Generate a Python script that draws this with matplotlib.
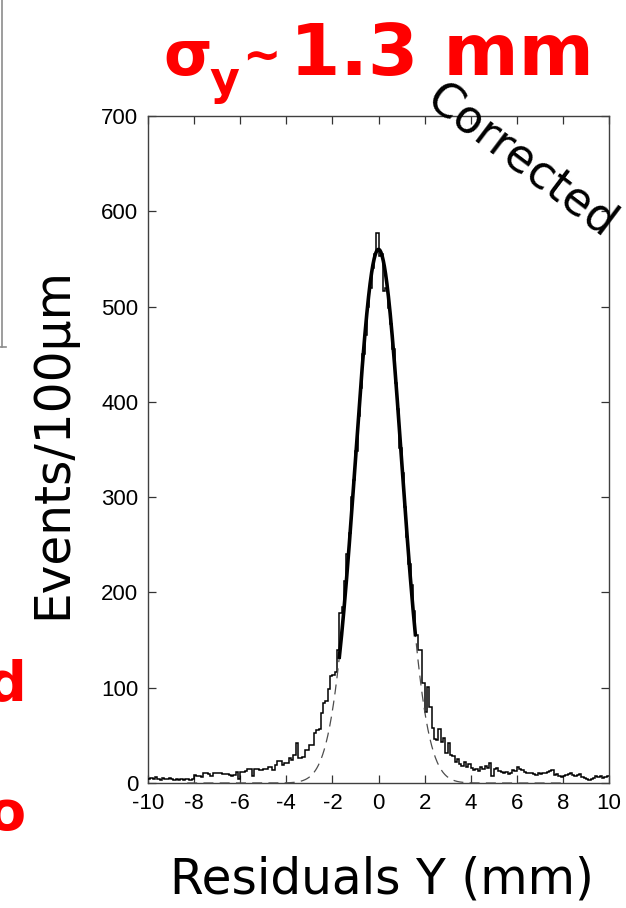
import numpy as np
import matplotlib
matplotlib.use('Agg')
import matplotlib.pyplot as plt
from matplotlib.lines import Line2D

plt.rcParams['axes.unicode_minus'] = False

# residual histogram, 100 um bins from -10 mm to +10 mm
bin_width = 0.1
x_min, x_max = -10, 10

# counts per bin, -10 mm .. -2 mm
counts_left = [
    4, 5, 4, 6, 4, 3, 5, 4, 4, 5,
    4, 3, 4, 3, 4, 3, 4, 4, 3, 4,
    8, 7, 7, 6, 10, 10, 9, 7, 10, 10,
    10, 10, 9, 9, 9, 8, 7, 8, 12, 4,
    12, 12, 13, 15, 15, 7, 15, 15, 14, 14,
    15, 15, 17, 17, 14, 19, 23, 23, 19, 21,
    21, 26, 24, 29, 42, 26, 26, 27, 35, 35,
    40, 40, 52, 56, 57, 73, 84, 86, 99, 112,
]
# counts per bin, -2 mm .. +2 mm
counts_core = [
    113, 117, 140, 178, 185, 212, 240, 262, 300, 318,
    348, 385, 415, 450, 470, 500, 520, 540, 555, 577,
    553, 555, 516, 520, 498, 482, 455, 420, 392, 352,
    325, 290, 258, 230, 208, 180, 155, 140, 140, 105,
]
# counts per bin, +2 mm .. +10 mm
counts_right = [
    74, 101, 80, 58, 46, 45, 57, 43, 47, 32,
    42, 29, 28, 22, 25, 20, 18, 22, 17, 20,
    16, 14, 15, 13, 17, 15, 18, 16, 21, 7,
    15, 16, 13, 12, 11, 12, 9, 10, 14, 13,
    17, 15, 14, 12, 11, 10, 11, 9, 8, 10,
    9, 10, 11, 12, 13, 14, 8, 9, 7, 6,
    7, 8, 9, 10, 8, 7, 8, 9, 6, 5,
    4, 3, 4, 5, 7, 6, 7, 5, 6, 7,
]

# gaussian fit to the core
fit_amp = 560
fit_mean = 0.0
fit_sigma = 1.0
fit_range = (-1.7, 1.6)      # fitted region, drawn solid
fit_extend = (-8.3, 8.0)     # extrapolation, drawn dashed

counts = np.array(counts_left + counts_core + counts_right)
edges = np.round(np.arange(x_min, x_max + bin_width / 2, bin_width), 3)


def gauss(x):
    return fit_amp * np.exp(-0.5 * ((x - fit_mean) / fit_sigma) ** 2)


W, H = 626, 908
fig = plt.figure(figsize=(W / 100, H / 100), dpi=100)
ax = fig.add_axes([148 / W, 1 - 783 / H, 461 / W, 667 / H])

ax.stairs(counts, edges, color='black', linewidth=1.1, baseline=None, zorder=3)

xd = np.linspace(fit_extend[0], fit_extend[1], 800)
ax.plot(xd, gauss(xd), color='0.3', linewidth=0.9, dashes=(8, 5), zorder=4, clip_on=False)
xs = np.linspace(fit_range[0], fit_range[1], 300)
ax.plot(xs, gauss(xs), color='black', linewidth=2.6, zorder=5)

ax.set_xlim(x_min, x_max)
ax.set_ylim(0, 700)
ax.set_xticks(range(-10, 11, 2))
ax.set_yticks(range(0, 701, 100))
ax.tick_params(direction='in', length=6, width=0.9, top=True, right=True,
               labelsize=16, pad=7, color='0.2')
for lab in ax.get_xticklabels() + ax.get_yticklabels():
    lab.set_family('Liberation Sans')
for sp in ax.spines.values():
    sp.set_linewidth(1.0)
    sp.set_color('0.25')

# axis titles
fig.text(52 / W, 1 - 443 / H, 'Events/100μm', rotation=90, ha='center', va='center',
         fontsize=35, family='DejaVu Sans')
fig.text(382 / W, 1 - 880 / H, 'Residuals Y (mm)', ha='center', va='center',
         fontsize=35, family='DejaVu Sans')

# resolution label
red = '#ff0000'
fig.text(163 / W, 1 - 75 / H, 'σ', color=red, fontsize=45, fontweight='bold',
         ha='left', va='baseline')
fig.text(209 / W, 1 - 94 / H, 'y', color=red, fontsize=33, fontweight='bold',
         ha='left', va='baseline')
fig.text(261 / W, 1 - 57 / H, '~', color=red, fontsize=33, fontweight='bold',
         ha='center', va='center')
fig.text(290 / W, 1 - 75 / H, '1.3 mm', color=red, fontsize=52, fontweight='bold',
         ha='left', va='baseline')

fig.text(424 / W, 1 - 104 / H, 'Corrected', rotation=-37, rotation_mode='anchor',
         ha='left', va='baseline', fontsize=33, family='DejaVu Sans')

# neighbouring slide text
fig.text(26 / W, 1 - 700 / H, 'd', color=red, fontsize=40, fontweight='bold',
         ha='right', va='baseline')
fig.text(26 / W, 1 - 830 / H, 'o', color=red, fontsize=40, fontweight='bold',
         ha='right', va='baseline')

# frame of the neighbouring panel
fig.add_artist(Line2D([1.5 / W, 1.5 / W], [1, 1 - 347 / H], color='0.55',
                      linewidth=1.2, transform=fig.transFigure))
fig.add_artist(Line2D([0, 6 / W], [1 - 347 / H, 1 - 347 / H], color='0.55',
                      linewidth=1.2, transform=fig.transFigure))

fig.savefig('out.png', dpi=100)
